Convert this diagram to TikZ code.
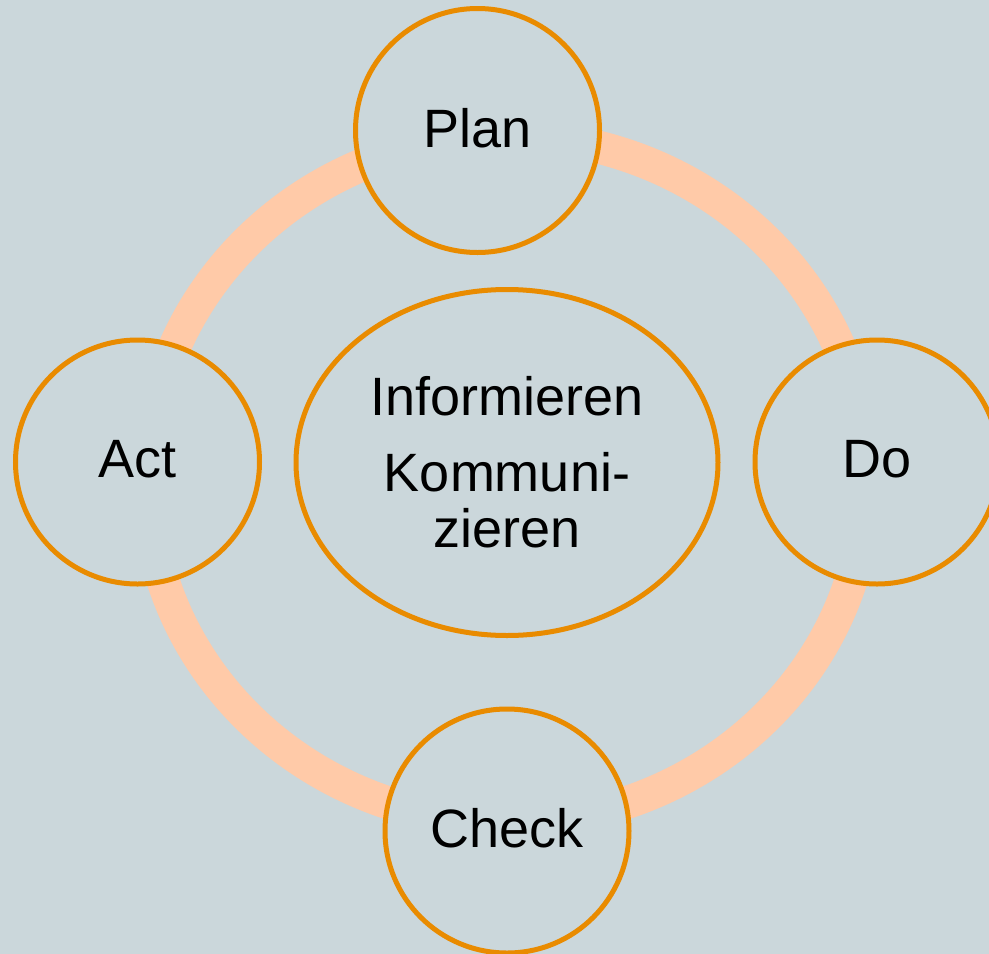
\documentclass[tikz,border=0pt]{standalone}
\usepackage{fontspec}
\setmainfont{Liberation Sans}
\usetikzlibrary{shapes.geometric}
\definecolor{bgcol}{RGB}{203,215,219}
\definecolor{ringcol}{RGB}{255,202,168}
\definecolor{rimcol}{RGB}{233,139,0}
\begin{document}
\begin{tikzpicture}[x=1pt,y=-1pt,
  phase/.style={circle, draw=rimcol, line width=5pt, fill=bgcol,
    minimum size=244pt, inner sep=0pt,
    font=\fontsize{54}{56}\selectfont, text depth=6pt},
  core/.style={ellipse, draw=rimcol, line width=5pt, fill=bgcol,
    minimum width=422pt, minimum height=346pt, inner sep=0pt,
    align=center, font=\fontsize{54}{56}\selectfont},
  cycleband/.style={draw=ringcol, line width=33pt}]
% page background
\fill[bgcol] (0,0) rectangle (989,954);
\useasboundingbox (0,0) rectangle (989,954);
% band joining the four phases
\draw[cycleband] (507,479) ellipse [x radius=360, y radius=343];
% the four phases
\node[phase] (plan)  at (477.5,130.5) {Plan};
\node[phase] (do)    at (877,462)     {Do};
\node[phase] (check) at (507,831)     {Check};
\node[phase] (act)   at (137.5,462)   {Act};
% centre
\node[core] (info) at (507,462.5) {Informieren\\[20pt]Kommuni-\\zieren};
\end{tikzpicture}
\end{document}
